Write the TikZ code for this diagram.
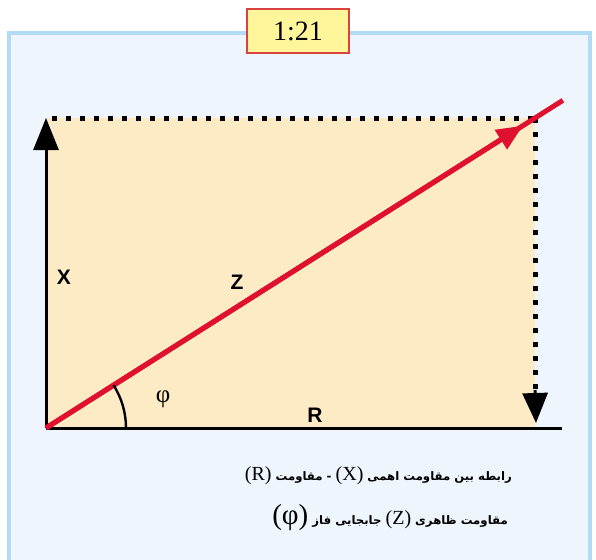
\documentclass[tikz,border=0pt]{standalone}
\usepackage{fontspec}
\setmainfont{Liberation Serif}
\newfontfamily\arabicfont[Script=Arabic]{DejaVu Sans}
\newfontfamily\lsans{Liberation Sans}
\usetikzlibrary{arrows.meta,calc}
\TeXXeTstate=1
\definecolor{panelfill}{HTML}{EEF5FD}
\definecolor{panelborder}{HTML}{B3DBF5}
\definecolor{beige}{HTML}{FDEBC6}
\definecolor{zred}{HTML}{E0102F}
\definecolor{tyellow}{HTML}{FFF59A}
\definecolor{tred}{HTML}{D9423F}
\tikzset{
  dotline/.style={line width=5pt, dash pattern=on 5pt off 9pt},
  vecline/.style={line width=3pt},
  redvec/.style={zred, line width=5pt},
  lbl/.style={font=\lsans\bfseries\fontsize{21}{23}\selectfont, inner sep=0pt},
  fatext/.style={anchor=east, inner sep=0pt, font=\arabicfont\bfseries\fontsize{11.7}{14}\selectfont}
}
\newcommand\latp[2]{\beginL{\rmfamily\mdseries\fontsize{#1}{#1}\selectfont (#2)}\endL{}}
\begin{document}
\begin{tikzpicture}[x=1pt,y=-1pt]
\useasboundingbox (0,0) rectangle (596,559);
\fill[white] (0,0) rectangle (596,559);
\draw[panelborder, fill=panelfill, line width=4pt] (9,33) rectangle (590,590);
% key points
\coordinate (O) at (46,428);
\coordinate (TL) at (46,118);
\coordinate (C) at (535,118);
\coordinate (BR) at (535,428);
\coordinate (Rend) at (562,428);
\coordinate (E) at ($(O)!1.057!(C)$);
\coordinate (Ztip) at ($(O)!0.975!(C)$);
\coordinate (Dtop) at (535,390);
\coordinate (Dtip) at (536,423);
\fill[beige] (TL) rectangle (BR);
% dotted projections
\draw[dotline] (52,118) -- (C);
\draw[dotline] (C) -- (535,395);
\draw[vecline, -{Triangle[width=25pt,length=30pt]}] (Dtop) -- (Dtip);
% base R
\draw[vecline] (O) -- (Rend);
% X vector
\draw[vecline, -{Triangle[width=25pt,length=32pt]}] (O) -- (TL);
% Z vector
\draw[redvec] (O) -- (E);
\draw[redvec, -{Triangle[width=22pt,length=26pt]}] (O) -- (Ztip);
% angle
\draw[line width=2.4pt] (126,428) arc[start angle=0, end angle=32.4, radius=80pt];
\node[font=\fontsize{25}{27}\selectfont, inner sep=0pt] (phi) at (163,399) {φ};
% labels
\node[lbl] (lx) at (64,277) {X};
\node[lbl] (lz) at (237,282) {Z};
\node[lbl] (lr) at (315,415) {R};
% title
\node[draw=tred, fill=tyellow, line width=1.5pt, minimum width=102pt, minimum height=44pt, inner sep=0pt,
      font=\fontsize{28}{30}\selectfont] (title) at (298,31) {1:21};
% caption
\node[fatext] (l1) at (512,476) {\beginR رابطه بین مقاومت اهمی \latp{20}{X} - مقاومت \latp{20}{R}\endR};
\node[fatext] (l2) at (508,518) {\beginR مقاومت ظاهری \latp{20}{Z} جابجایی فاز \latp{29}{φ}\endR};
\end{tikzpicture}
\end{document}
